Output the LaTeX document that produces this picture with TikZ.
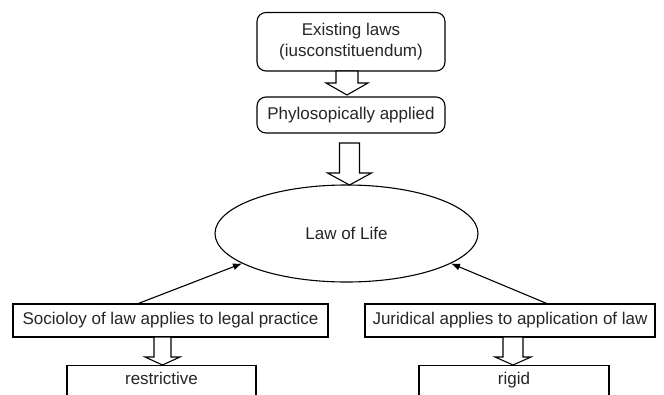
\documentclass[tikz,border=0pt]{standalone}
\usepackage{fontspec}
\setmainfont{Liberation Sans}
\usetikzlibrary{arrows.meta,shapes.geometric,calc}
\begin{document}
\begin{tikzpicture}[x=1pt,y=-1pt,
  every node/.style={font=\fontsize{17}{21.5}\selectfont, text=black!85, inner sep=0pt, align=center},
  rbox/.style={draw, line width=1.1pt, rounded corners=9pt},
  sbox/.style={draw, line width=1.1pt},
  conn/.style={line width=1.1pt, -{Latex[length=9pt,width=7pt]}},
  harrow/.style={draw, line width=1.1pt, fill=white, line join=miter}
]
\useasboundingbox (0,0) rectangle (664,394);
\clip (0,0) rectangle (664,394);
\fill[white] (0,0) rectangle (664,394);

\node[rbox, minimum width=188pt, minimum height=58.5pt] (b1) at (351,41.75) {Existing laws\\(iusconstituendum)};
\node[rbox, minimum width=188pt, minimum height=36pt] (b2) at (351,115) {Phylosopically applied};
\node[ellipse, draw, line width=1.1pt, minimum width=263pt, minimum height=97pt] (e) at (346.5,233.5) {Law of Life};
\node[sbox, minimum width=315pt, minimum height=33pt] (l1) at (170.5,320.5) {Socioloy of law applies to legal practice};
\node[sbox, minimum width=290pt, minimum height=33pt] (r1) at (510,320.5) {Juridical applies to application of law};
\node[sbox, minimum width=189pt, minimum height=40pt, anchor=north] (l2) at (161.5,365) {\raisebox{15pt}{restrictive}};
\node[sbox, minimum width=190pt, minimum height=40pt, anchor=north] (r2) at (514,365) {\raisebox{15pt}{rigid}};

% hollow block arrows
\draw[harrow] (336,71) -- (358,71) -- (358,83) -- (368,83) -- (347,95) -- (326,83) -- (336,83) -- cycle;
\draw[harrow] (339.5,143) -- (359.5,143) -- (359.5,173) -- (371.5,173) -- (349.5,185) -- (327.5,173) -- (339.5,173) -- cycle;
\draw[harrow] (154,337) -- (171,337) -- (171,357) -- (180,357) -- (162.5,365) -- (145,357) -- (154,357) -- cycle;
\draw[harrow] (503,337) -- (523,337) -- (523,357) -- (531,357) -- (513,365) -- (495,357) -- (503,357) -- cycle;

% connectors
\coordinate (la) at (137,304);
\coordinate (ra) at (548,304);
\draw[conn] (la) -- (e.196);
\draw[conn] (ra) -- (e.344);
\end{tikzpicture}
\end{document}
